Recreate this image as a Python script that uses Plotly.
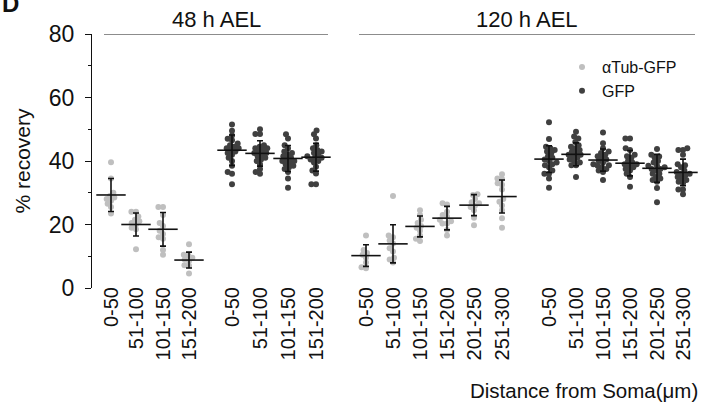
import math
import plotly.graph_objects as go

# ---------------- data ----------------
cats_48 = ["0-50", "51-100", "101-150", "151-200"]
cats_120 = ["0-50", "51-100", "101-150", "151-200", "201-250", "251-300"]

atub_48_points = [
    [39.6, 34.5, 30, 29, 28.5, 28, 27.5, 26.5, 25.5, 23.5],
    [24, 24, 22.5, 21.5, 21, 20.5, 20, 19, 18.5, 12.2],
    [25.5, 25.5, 23, 20.5, 19.5, 18, 17, 16, 15.5, 12, 10.5],
    [13.8, 10.5, 10.2, 9.5, 9, 8.5, 7.2, 7, 4.6],
]
atub_48_mean = [29.3, 20.0, 18.5, 8.8]
atub_48_sd = [5.2, 3.6, 5.3, 2.5]

gfp_48_points = [
    [51.5, 49.5, 48, 47, 46.5, 45.5, 45, 44.5, 44, 43.5, 43, 42.5, 42, 41, 40, 38.5, 36.5, 36, 32.7, 44],
    [50, 48.5, 48.5, 45, 44.5, 44, 43.5, 43, 42.5, 42, 41.5, 41, 40.5, 40, 39, 37.5, 36.5, 36, 44, 42.5],
    [48.4, 47.1, 45, 44, 43, 42.5, 42, 41.5, 41, 40.5, 40, 39.5, 39, 38.5, 38, 37.5, 36.5, 34.5, 31.6, 40],
    [49.6, 48.4, 47.1, 45, 44, 43.5, 43, 42.5, 42, 41.5, 41, 40.5, 40, 39.5, 38.2, 37, 36.1, 32.7, 32.7, 41],
]
gfp_48_mean = [43.4, 42.4, 40.8, 41.2]
gfp_48_sd = [4.8, 4.0, 4.1, 4.4]

atub_120_points = [
    [16.5, 12, 11, 10.5, 9.5, 8, 6.5, 6.2],
    [29, 16.5, 16, 15, 14, 12.5, 11.5, 9.5, 9, 8],
    [24.5, 23, 21.5, 20.5, 19.5, 19, 18, 16.5, 15.5, 14.8],
    [26.7, 26.3, 24, 23, 22.5, 21.5, 21, 20.3, 20.3, 18.3, 16.5],
    [29.5, 29.3, 28, 27, 26.7, 26, 25.5, 24.5, 22.1, 19.8],
    [35.8, 34.5, 34.3, 33, 32.5, 31, 28, 27.2, 26, 24.5, 22, 19],
]
atub_120_mean = [10.2, 13.9, 19.4, 22.0, 26.1, 28.8]
atub_120_sd = [3.4, 6.0, 3.3, 3.7, 3.3, 5.2]

gfp_120_points = [
    [52.2, 46.9, 44.5, 44, 43.5, 43, 42.5, 41.5, 41, 40.5, 40, 39.5, 39, 38.7, 38, 37, 36, 36, 34.5, 31.6],
    [49.2, 47.7, 47.1, 46, 45, 44.5, 44, 43.5, 43, 42.5, 42, 41.5, 41, 40.5, 40, 39.5, 38.7, 38.7, 35, 42],
    [49, 45.6, 44, 43, 42.5, 42, 41.5, 41, 40.5, 40, 39.5, 39, 38.7, 38.5, 38, 37.5, 37, 36.5, 34],
    [47.1, 47.1, 44, 43.5, 42, 41.5, 41, 40, 39.5, 39, 38.5, 38, 37.5, 37, 36, 35, 31.9, 39],
    [43.8, 42, 41.4, 41, 40, 39.5, 38.5, 38, 37.5, 37.5, 37, 36, 35, 34.5, 33.5, 34, 31.5, 36, 27, 38.5],
    [44, 43.5, 43.5, 42, 39, 38.7, 38, 37, 36.5, 36, 35.5, 35, 34.5, 34, 33.5, 33, 31, 31, 29.5, 36],
]
gfp_120_mean = [40.6, 42.1, 40.3, 39.3, 37.7, 36.4]
gfp_120_sd = [4.2, 3.6, 3.5, 4.0, 4.4, 4.2]

y_ticks = [0, 20, 40, 60, 80]
group_titles = ["48 h AEL", "120 h AEL"]
legend_names = ["\u03b1Tub-GFP", "GFP"]
x_title = "Distance from Soma(\u03bcm)"
y_title = "% recovery"

# ---------------- layout / style ----------------
W, H = 702, 407
M_L, M_R, M_T, M_B = 92, 2, 34, 119
X_RANGE = [M_L, W - M_R]          # x axis in screen-like units
Y_RANGE = [0, 80]
PX_PER_Y = (H - M_T - M_B) / (Y_RANGE[1] - Y_RANGE[0])

pos_48_atub = [111, 136, 163, 189]
pos_48_gfp = [232, 260, 288, 316]
pos_120_atub = [366, 393, 420, 447, 474, 502]
pos_120_gfp = [549, 576, 603, 630, 657, 683]

LIGHT = "#bfbfbf"
DARK = "#404040"
MARK = 6
FONT = "Liberation Sans, Arial, sans-serif"


def swarm(center, values, d=4.6):
    """Deterministic beeswarm offsets (layout only)."""
    order = sorted(range(len(values)), key=lambda i: values[i])
    placed = []
    xs = [0.0] * len(values)
    for i in order:
        yp = values[i] * PX_PER_Y
        cands = [0.0]
        for (px, py) in placed:
            dy = yp - py
            if abs(dy) < d:
                w = math.sqrt(d * d - dy * dy)
                cands += [px + w, px - w]
        cands.sort(key=lambda c: (abs(c), c))
        for c in cands:
            ok = all((c - px) ** 2 + (yp - py) ** 2 >= d * d - 1e-6 for (px, py) in placed)
            if ok:
                placed.append((c, yp))
                xs[i] = center + c
                break
    return xs


def collect(groups_pos, groups_vals):
    xs, ys = [], []
    for positions, groups in zip(groups_pos, groups_vals):
        for p, vals in zip(positions, groups):
            xs += swarm(p, vals)
            ys += list(vals)
    return xs, ys


fig = go.Figure()

ax, ay = collect([pos_48_atub, pos_120_atub], [atub_48_points, atub_120_points])
gx, gy = collect([pos_48_gfp, pos_120_gfp], [gfp_48_points, gfp_120_points])

fig.add_trace(go.Scatter(x=ax, y=ay, mode="markers", name=legend_names[0],
                         marker=dict(color=LIGHT, size=MARK, line=dict(width=0)),
                         cliponaxis=False))
fig.add_trace(go.Scatter(x=gx, y=gy, mode="markers", name=legend_names[1],
                         marker=dict(color=DARK, size=MARK, line=dict(width=0)),
                         cliponaxis=False))

for pos, mean, sd in [(pos_48_atub, atub_48_mean, atub_48_sd),
                      (pos_48_gfp, gfp_48_mean, gfp_48_sd),
                      (pos_120_atub, atub_120_mean, atub_120_sd),
                      (pos_120_gfp, gfp_120_mean, gfp_120_sd)]:
    fig.add_trace(go.Scatter(
        x=pos, y=mean, mode="markers", showlegend=False, hoverinfo="skip",
        marker=dict(symbol="line-ew", size=21, color="#111111",
                    line=dict(width=1.6, color="#111111")),
        error_y=dict(type="data", array=sd, visible=True, color="#111111",
                     thickness=1.6, width=3),
        cliponaxis=False))

tickvals = pos_48_atub + pos_48_gfp + pos_120_atub + pos_120_gfp
ticktext = cats_48 + cats_48 + cats_120 + cats_120

# group header lines and titles
for title, first, last in [(group_titles[0], pos_48_atub[0], pos_48_gfp[-1]),
                           (group_titles[1], pos_120_atub[0], pos_120_gfp[-1])]:
    x0, x1 = first - 7, last + 12
    fig.add_shape(type="line", xref="x", yref="y", x0=x0, x1=x1, y0=Y_RANGE[1], y1=Y_RANGE[1],
                  line=dict(color="#666666", width=1.3))
    fig.add_annotation(x=(x0 + x1) / 2, y=Y_RANGE[1], xref="x", yref="y", text=title,
                       showarrow=False, yanchor="bottom", yshift=0,
                       font=dict(size=22, color="#111111", family=FONT))

# panel letter (partly cut off at the top, as in the source figure)
fig.add_annotation(x=0, y=1, xref="paper", yref="paper", text="<b>D</b>", showarrow=False,
                   xanchor="left", yanchor="bottom", xshift=-92, yshift=15,
                   font=dict(size=24, color="#111111", family=FONT))

# x axis title
fig.add_annotation(x=1, y=0, xref="paper", yref="paper", text=x_title, showarrow=False,
                   xanchor="right", yanchor="middle", yshift=-102, xshift=0,
                   font=dict(size=20.5, color="#111111", family=FONT))

fig.update_layout(
    width=W, height=H,
    margin=dict(l=M_L, r=M_R, t=M_T, b=M_B, pad=0, autoexpand=False),
    paper_bgcolor="white", plot_bgcolor="white",
    font=dict(family=FONT, color="#111111"),
    showlegend=True,
    legend=dict(x=(562 - M_L) / (W - M_L - M_R), y=(H - M_B - 50) / (H - M_T - M_B),
                xanchor="left", yanchor="top", bgcolor="rgba(0,0,0,0)",
                font=dict(size=16, color="#111111", family=FONT),
                itemwidth=30, tracegroupgap=0),
    xaxis=dict(range=X_RANGE, tickmode="array", tickvals=tickvals, ticktext=ticktext,
               tickangle=-90, ticks="", showline=False, showgrid=False, zeroline=False,
               ticklabelstandoff=-6, automargin=False,
               tickfont=dict(size=20, color="#111111", family=FONT)),
    yaxis=dict(range=Y_RANGE, tickvals=y_ticks, ticks="outside", ticklen=6, tickwidth=1.3,
               tickcolor="#111111", showline=True, linecolor="#111111", linewidth=1.3,
               showgrid=False, zeroline=False, ticklabelstandoff=6, automargin=False,
               minor=dict(dtick=10, ticks="outside", ticklen=3, tickwidth=1.3, tickcolor="#111111"),
               tickfont=dict(size=23, color="#111111", family=FONT),
               title=dict(text=y_title, font=dict(size=21, color="#111111", family=FONT), standoff=12)),
)

fig.write_html("out.html", config={"displayModeBar": False},
               post_script="document.body.style.margin='0';document.body.style.overflow='hidden';")
